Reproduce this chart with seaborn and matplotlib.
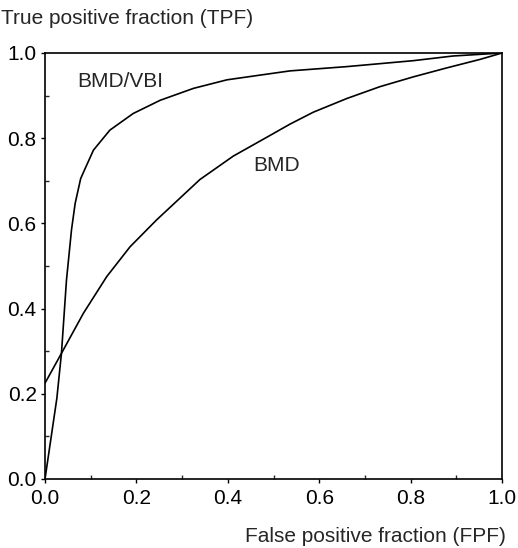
import matplotlib
matplotlib.use("Agg")
import matplotlib.pyplot as plt
import seaborn as sns
import pandas as pd
from matplotlib.ticker import MultipleLocator

# Data
bmd_vbi_fpf = [0.0, 0.026, 0.036, 0.047, 0.058, 0.066, 0.078, 0.085, 0.106, 0.142, 0.193,
               0.252, 0.325, 0.398, 0.47, 0.536, 0.66, 0.806, 0.893, 1.0]
bmd_vbi_tpf = [0.0, 0.19, 0.295, 0.467, 0.585, 0.647, 0.705, 0.722, 0.772, 0.819, 0.858,
               0.889, 0.917, 0.937, 0.948, 0.958, 0.968, 0.982, 0.993, 1.0]
bmd_fpf = [0.0, 0.036, 0.084, 0.135, 0.186, 0.244, 0.295, 0.339, 0.412, 0.485, 0.536,
           0.587, 0.66, 0.733, 0.806, 0.879, 0.952, 1.0]
bmd_tpf = [0.225, 0.295, 0.389, 0.475, 0.545, 0.608, 0.659, 0.703, 0.758, 0.802, 0.833,
           0.861, 0.893, 0.921, 0.944, 0.965, 0.985, 1.0]
curve_names = ["BMD/VBI", "BMD"]
x_ticks = [0.0, 0.2, 0.4, 0.6, 0.8, 1.0]
y_ticks = [0.0, 0.2, 0.4, 0.6, 0.8, 1.0]
x_label = "False positive fraction (FPF)"
y_label = "True positive fraction (TPF)"

df = pd.concat([
    pd.DataFrame({"FPF": bmd_vbi_fpf, "TPF": bmd_vbi_tpf, "curve": curve_names[0]}),
    pd.DataFrame({"FPF": bmd_fpf, "TPF": bmd_tpf, "curve": curve_names[1]}),
], ignore_index=True)

sns.set_style("ticks")
plt.rcParams["font.family"] = ["Liberation Sans", "DejaVu Sans"]

FS = 15

fig = plt.figure(figsize=(5.18, 5.48), dpi=100)
ax = fig.add_axes([45 / 518, 1 - 479 / 548, 457 / 518, 426 / 548])

sns.lineplot(data=df, x="FPF", y="TPF", hue="curve", units="curve", estimator=None,
             sort=False, palette={curve_names[0]: "black", curve_names[1]: "black"},
             linewidth=1.2, legend=False, ax=ax)

ax.set_xlim(0, 1)
ax.set_ylim(0, 1)
ax.set_xticks(x_ticks)
ax.set_yticks(y_ticks)
ax.set_xticklabels([f"{t:.1f}" for t in x_ticks])
ax.set_yticklabels([f"{t:.1f}" for t in y_ticks])
ax.xaxis.set_minor_locator(MultipleLocator(0.1))
ax.yaxis.set_minor_locator(MultipleLocator(0.1))
ax.tick_params(which="major", direction="out", length=3, width=1, labelsize=FS,
               colors="black")
ax.tick_params(axis="x", which="major", pad=4)
ax.tick_params(axis="y", which="major", pad=3)
ax.tick_params(which="minor", direction="in", length=3, width=1)
for s in ax.spines.values():
    s.set_visible(True)
    s.set_linewidth(1.2)
    s.set_color("black")

ax.set_xlabel("")
ax.set_ylabel("")
fig.text(1 / 518, 1 - 18 / 548, y_label, fontsize=FS, ha="left", va="center")
fig.text(506 / 518, 1 - 537 / 548, x_label, fontsize=FS, ha="right", va="center")

ax.text(0.07, 0.934, curve_names[0], fontsize=FS, ha="left", va="center")
ax.text(0.456, 0.737, curve_names[1], fontsize=FS, ha="left", va="center")

fig.savefig("out.png", dpi=100)
